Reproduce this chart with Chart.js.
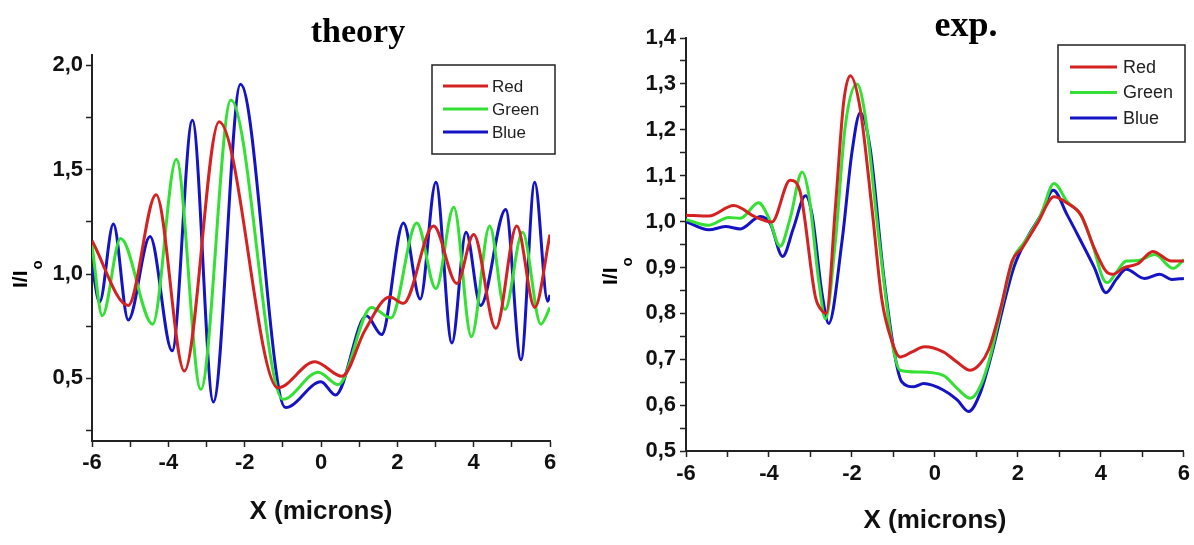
<!DOCTYPE html>
<html>
<head>
<meta charset="utf-8">
<script src="https://cdn.jsdelivr.net/npm/chart.js@4.4.0/dist/chart.umd.min.js"></script>
<style>
  html, body { margin: 0; padding: 0; background: #fff; }
  .panel { position: absolute; top: 0; width: 597px; height: 545px; }
</style>
</head>
<body>
<div class="panel" style="left:0"><canvas id="theoryChart"></canvas></div>
<div class="panel" style="left:597px"><canvas id="expChart"></canvas></div>
<script>
  // series names / colours
  const seriesNames = ['Red', 'Green', 'Blue'];
  const seriesColors = ['#d42222', '#33e033', '#1414c4'];

  // theory panel
  const thRedX = [-6, -5.05, -4.32, -3.58, -2.67, -1.13, -0.16, 0.55, 1.15, 1.8, 2.16, 2.95, 3.56, 4.0, 4.58, 5.13, 5.6, 6.0];
  const thRedY = [1.16, 0.85, 1.38, 0.535, 1.73, 0.455, 0.58, 0.51, 0.73, 0.89, 0.86, 1.23, 0.955, 1.19, 0.74, 1.23, 0.84, 1.19];
  const thGreenX = [-6, -5.73, -5.25, -4.41, -3.79, -3.15, -2.36, -1.0, -0.07, 0.45, 1.32, 1.83, 2.51, 3.01, 3.48, 3.94, 4.42, 4.82, 5.28, 5.76, 6.0];
  const thGreenY = [1.14, 0.80, 1.17, 0.76, 1.55, 0.447, 1.834, 0.40, 0.53, 0.47, 0.84, 0.79, 1.245, 0.93, 1.32, 0.70, 1.23, 0.83, 1.20, 0.76, 0.84];
  const thBlueX = [-6, -5.8, -5.44, -5.05, -4.48, -3.9, -3.37, -2.82, -2.11, -0.93, 0.0, 0.38, 1.19, 1.59, 2.16, 2.6, 3.01, 3.43, 3.8, 4.18, 4.84, 5.24, 5.6, 5.94, 6.0];
  const thBlueY = [1.04, 0.866, 1.24, 0.78, 1.18, 0.632, 1.737, 0.387, 1.91, 0.36, 0.484, 0.42, 0.80, 0.71, 1.245, 0.88, 1.44, 0.67, 1.20, 0.85, 1.31, 0.59, 1.44, 0.87, 0.90];

  // exp. panel
  const exRedX = [-6, -5.45, -4.85, -4.33, -3.93, -3.49, -3.25, -2.88, -2.76, -2.62, -2.4, -2.2, -2.04, -1.8, -1.52, -1.28, -1.04, -0.84, -0.55, -0.25, 0.2, 0.53, 0.85, 1.09, 1.29, 1.58, 1.86, 2.1, 2.47, 2.87, 3.19, 3.52, 3.84, 4.12, 4.28, 4.57, 4.89, 5.25, 5.7, 6.0];
  const exRedY = [1.014, 1.012, 1.035, 1.01, 0.999, 1.09, 1.065, 0.835, 0.81, 0.80, 1.03, 1.26, 1.318, 1.245, 1.03, 0.83, 0.74, 0.705, 0.716, 0.727, 0.716, 0.694, 0.676, 0.69, 0.72, 0.81, 0.914, 0.942, 0.996, 1.054, 1.04, 1.014, 0.942, 0.892, 0.885, 0.90, 0.908, 0.935, 0.914, 0.914];
  const exGreenX = [-6, -5.45, -4.97, -4.69, -4.25, -4.0, -3.73, -3.49, -3.2, -3.04, -2.8, -2.64, -2.4, -2.16, -1.88, -1.68, -1.36, -1.04, -0.84, -0.39, 0.2, 0.53, 0.85, 1.09, 1.33, 1.62, 1.9, 2.14, 2.55, 2.87, 3.19, 3.52, 3.8, 4.04, 4.16, 4.37, 4.61, 4.89, 5.3, 5.74, 6.0];
  const exGreenY = [1.004, 0.992, 1.009, 1.007, 1.041, 1.007, 0.946, 1.007, 1.108, 1.058, 0.87, 0.788, 0.957, 1.209, 1.30, 1.23, 0.97, 0.74, 0.676, 0.672, 0.665, 0.637, 0.615, 0.64, 0.705, 0.82, 0.921, 0.953, 1.014, 1.083, 1.043, 1.014, 0.95, 0.878, 0.867, 0.889, 0.914, 0.915, 0.928, 0.898, 0.917];
  const exBlueX = [-6, -5.45, -5.05, -4.69, -4.21, -3.97, -3.67, -3.41, -3.12, -2.96, -2.72, -2.56, -2.24, -2.0, -1.8, -1.56, -1.24, -0.96, -0.8, -0.51, -0.27, 0.2, 0.53, 0.81, 1.09, 1.37, 1.66, 1.9, 2.22, 2.55, 2.85, 3.19, 3.52, 3.84, 4.12, 4.37, 4.61, 5.05, 5.42, 5.7, 6.0];
  const exBlueY = [1.0, 0.982, 0.989, 0.984, 1.011, 0.996, 0.924, 0.986, 1.056, 1.014, 0.842, 0.778, 0.957, 1.151, 1.237, 1.158, 0.885, 0.705, 0.651, 0.64, 0.647, 0.633, 0.612, 0.586, 0.626, 0.712, 0.82, 0.90, 0.964, 1.014, 1.068, 1.014, 0.957, 0.90, 0.845, 0.874, 0.896, 0.876, 0.885, 0.874, 0.876];

  const pts = (xs, ys) => xs.map((x, i) => ({ x: x, y: ys[i] }));
  const comma = (v, d) => v.toFixed(d).replace('.', ',');
  const isStep = (v, s) => Math.abs(v / s - Math.round(v / s)) < 1e-6;

  const tickFont = { family: '"Liberation Sans", Arial, sans-serif', size: 22, weight: 'bold' };
  const axisColor = '#222';

  // titles, I/Io label and boxed legend
  const decor = {
    id: 'decor',
    afterDraw(chart, args, o) {
      const ctx = chart.ctx;
      ctx.save();
      ctx.fillStyle = '#000';
      ctx.font = 'bold ' + o.titleSize + 'px "Liberation Serif", "Times New Roman", serif';
      ctx.textAlign = 'center';
      ctx.textBaseline = 'alphabetic';
      ctx.fillText(o.title, o.titleX, o.titleY);

      ctx.translate(o.yTitleX, o.yTitleY);
      ctx.rotate(-Math.PI / 2);
      ctx.textAlign = 'left';
      ctx.font = 'bold 21px "Liberation Sans", Arial, sans-serif';
      ctx.fillText('I/I', 0, 0);
      const w = ctx.measureText('I/I').width;
      ctx.font = 'bold 15px "Liberation Sans", Arial, sans-serif';
      ctx.fillText('o', w + 1, 15);
      ctx.restore();

      const L = o.legend;
      ctx.save();
      ctx.strokeStyle = '#222';
      ctx.lineWidth = 1.5;
      ctx.strokeRect(L.x, L.y, L.w, L.h);
      ctx.textAlign = 'left';
      ctx.textBaseline = 'middle';
      chart.data.datasets.forEach((ds, i) => {
        const yy = L.y0 + i * L.dy;
        ctx.strokeStyle = ds.borderColor;
        ctx.lineWidth = 3;
        ctx.beginPath();
        ctx.moveTo(L.x1, yy);
        ctx.lineTo(L.x2, yy);
        ctx.stroke();
        ctx.fillStyle = '#222';
        ctx.font = L.size + 'px "Liberation Sans", Arial, sans-serif';
        ctx.fillText(ds.label, L.tx, yy + 1);
      });
      ctx.restore();
    }
  };

  function datasets(lists) {
    return lists.map((d, i) => ({
      label: seriesNames[i],
      data: d,
      borderColor: seriesColors[i],
      borderWidth: 3,
      pointRadius: 0,
      fill: false,
      cubicInterpolationMode: 'monotone'
    }));
  }

  // Theory chart
  new Chart(document.getElementById('theoryChart'), {
    type: 'line',
    data: {
      datasets: datasets([pts(thRedX, thRedY), pts(thGreenX, thGreenY), pts(thBlueX, thBlueY)])
    },
    plugins: [decor],
    options: {
      responsive: true,
      maintainAspectRatio: false,
      animation: false,
      layout: { padding: { left: 0, right: 47, top: 55, bottom: 0 } },
      plugins: {
        legend: { display: false },
        tooltip: { enabled: false },
        decor: {
          title: 'theory', titleSize: 34, titleX: 358, titleY: 42,
          yTitleX: 27, yTitleY: 288,
          legend: { x: 432, y: 65, w: 123, h: 89, y0: 86, dy: 23, x1: 443, x2: 488, tx: 492, size: 17 }
        }
      },
      scales: {
        x: {
          type: 'linear', min: -6, max: 6,
          afterFit: s => { s.height = 104; },
          border: { display: true, color: axisColor, width: 2 },
          grid: { drawOnChartArea: false, color: axisColor, tickLength: 6, tickWidth: 1.5 },
          ticks: { stepSize: 1, autoSkip: false, maxRotation: 0, padding: 3, color: '#111', font: tickFont,
                   callback: v => isStep(v, 2) ? String(v) : '' },
          title: { display: true, text: 'X (microns)', color: '#111',
                   font: { family: '"Liberation Sans", Arial, sans-serif', size: 26, weight: 'bold' },
                   padding: { top: 0, bottom: 18 } }
        },
        y: {
          min: 0.2, max: 2.05,
          afterFit: s => { s.width = 92; },
          border: { display: true, color: axisColor, width: 2 },
          grid: { drawOnChartArea: false, color: axisColor, tickLength: 6, tickWidth: 1.5 },
          ticks: { stepSize: 0.25, includeBounds: false, autoSkip: false, padding: 3, color: '#111', font: tickFont,
                   callback: v => isStep(v, 0.5) ? comma(v, 1) : '' }
        }
      }
    }
  });

  // Experiment chart
  new Chart(document.getElementById('expChart'), {
    type: 'line',
    data: {
      datasets: datasets([pts(exRedX, exRedY), pts(exGreenX, exGreenY), pts(exBlueX, exBlueY)])
    },
    plugins: [decor],
    options: {
      responsive: true,
      maintainAspectRatio: false,
      animation: false,
      layout: { padding: { left: 0, right: 8, top: 38, bottom: 0 } },
      plugins: {
        legend: { display: false },
        tooltip: { enabled: false },
        decor: {
          title: 'exp.', titleSize: 36, titleX: 369, titleY: 36,
          yTitleX: 20, yTitleY: 285,
          legend: { x: 461, y: 45, w: 127, h: 97, y0: 67, dy: 25.5, x1: 473, x2: 520, tx: 526, size: 18 }
        }
      },
      scales: {
        x: {
          type: 'linear', min: -6, max: 6,
          afterFit: s => { s.height = 94; },
          border: { display: true, color: axisColor, width: 2 },
          grid: { drawOnChartArea: false, color: axisColor, tickLength: 6, tickWidth: 1.5 },
          ticks: { stepSize: 1, autoSkip: false, maxRotation: 0, padding: 4, color: '#111', font: tickFont,
                   callback: v => isStep(v, 2) ? String(v) : '' },
          title: { display: true, text: 'X (microns)', color: '#111',
                   font: { family: '"Liberation Sans", Arial, sans-serif', size: 26, weight: 'bold' },
                   padding: { top: 0, bottom: 9 } }
        },
        y: {
          min: 0.5, max: 1.4,
          afterFit: s => { s.width = 89; },
          border: { display: true, color: axisColor, width: 2 },
          grid: { drawOnChartArea: false, color: axisColor, tickLength: 6, tickWidth: 1.5 },
          ticks: { stepSize: 0.05, autoSkip: false, padding: 4, color: '#111', font: tickFont,
                   callback: v => isStep(v, 0.1) ? comma(v, 1) : '' }
        }
      }
    }
  });
</script>
</body>
</html>
